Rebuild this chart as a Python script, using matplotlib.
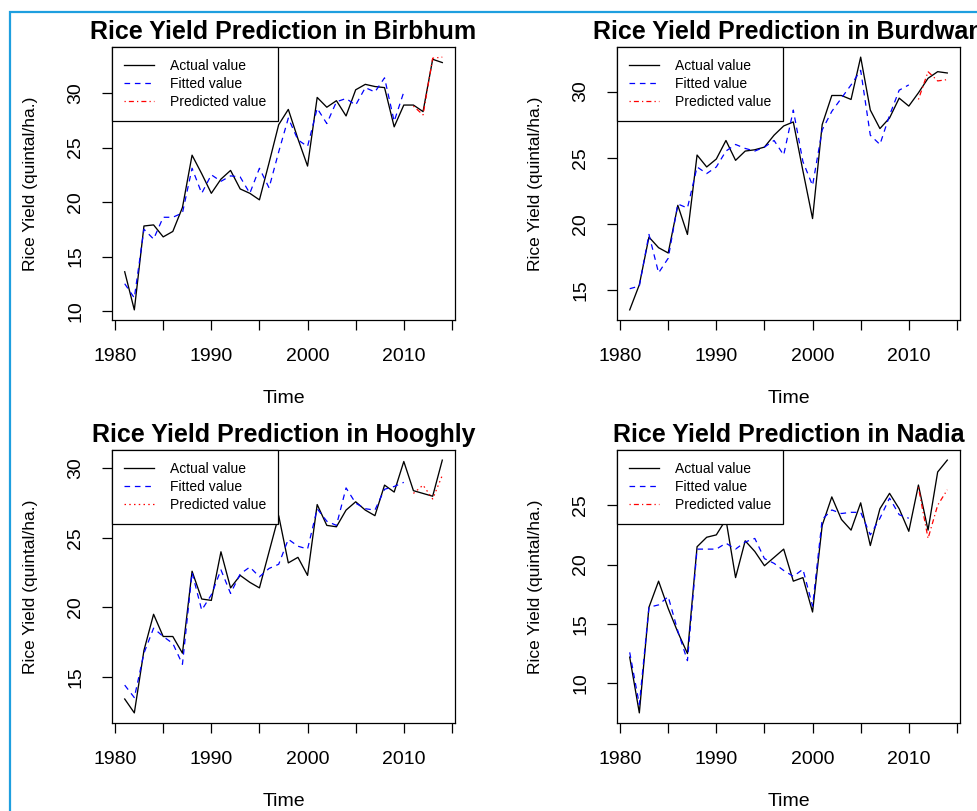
import numpy as np
import matplotlib
matplotlib.use("Agg")
import matplotlib.pyplot as plt
from matplotlib.patches import Rectangle
from matplotlib.ticker import MultipleLocator

plt.rcParams['font.family'] = ['Liberation Sans', 'DejaVu Sans']

years      = list(range(1981, 2015))
fit_years  = list(range(1981, 2011))
pred_years = list(range(2011, 2015))

districts = ["Birbhum", "Burdwan", "Hooghly", "Nadia"]

birbhum_actual = [13.6, 10.1, 17.8, 17.9, 16.8, 17.3, 19.5, 24.3, 22.6, 20.8,
                  22.1, 22.9, 21.2, 20.8, 20.2, 23.6, 27.1, 28.5, 25.8, 23.3,
                  29.6, 28.7, 29.3, 27.9, 30.3, 30.8, 30.6, 30.5, 26.9, 28.9,
                  28.9, 28.3, 33.1, 32.8]
birbhum_fitted = [12.5, 11.2, 17.5, 16.6, 18.6, 18.6, 19.0, 23.1, 20.8, 22.5,
                  21.9, 22.4, 22.3, 20.8, 23.1, 21.3, 24.6, 27.7, 25.7, 25.1,
                  28.6, 27.2, 29.2, 29.5, 28.9, 30.5, 30.1, 31.4, 27.4, 30.1]
birbhum_pred   = [28.8, 28.0, 33.2, 33.3]

burdwan_actual = [13.5, 15.4, 19.0, 18.2, 17.8, 21.4, 19.2, 25.2, 24.3, 24.9,
                  26.3, 24.8, 25.5, 25.6, 25.8, 26.7, 27.4, 27.7, 24.0, 20.4,
                  27.5, 29.7, 29.7, 29.4, 32.6, 28.6, 27.2, 28.0, 29.5, 28.9,
                  29.9, 31.0, 31.5, 31.4]
burdwan_fitted = [15.1, 15.3, 19.2, 16.3, 17.4, 21.5, 21.2, 24.3, 23.8, 24.3,
                  25.5, 26.0, 25.7, 25.5, 25.8, 26.3, 25.2, 28.6, 24.7, 22.9,
                  27.1, 28.5, 29.5, 30.5, 31.6, 26.7, 26.0, 28.2, 30.1, 30.5]
burdwan_pred   = [29.4, 31.5, 30.8, 30.9]

hooghly_actual = [13.4, 12.4, 16.9, 19.5, 17.9, 17.9, 16.7, 22.6, 20.6, 20.5,
                  24.0, 21.4, 22.3, 21.8, 21.4, 24.0, 26.6, 23.2, 23.6, 22.3,
                  27.4, 25.9, 25.8, 27.0, 27.6, 27.0, 26.6, 28.8, 28.3, 30.5,
                  28.4, 28.2, 28.0, 30.6]
hooghly_fitted = [14.4, 13.5, 16.7, 18.5, 17.9, 17.4, 15.9, 22.5, 19.8, 20.9,
                  22.7, 21.0, 22.4, 22.9, 22.2, 22.8, 23.1, 24.9, 24.4, 24.2,
                  27.1, 26.2, 25.9, 28.6, 27.5, 27.1, 27.0, 28.5, 28.7, 29.0]
hooghly_pred   = [28.2, 28.8, 27.8, 29.5]

nadia_actual = [12.2, 7.5, 16.4, 18.6, 16.3, 14.3, 12.5, 21.5, 22.3, 22.5,
                23.8, 18.9, 22.0, 21.1, 19.9, 20.6, 21.3, 18.6, 18.9, 16.0,
                23.3, 25.7, 23.8, 22.9, 25.2, 21.6, 24.7, 26.0, 24.7, 22.8,
                26.7, 22.9, 27.8, 28.8]
nadia_fitted = [12.6, 8.2, 16.4, 16.6, 17.3, 14.4, 11.9, 21.3, 21.3, 21.3,
                21.8, 21.3, 21.9, 22.2, 20.5, 20.1, 19.5, 19.0, 19.6, 16.5,
                23.8, 24.6, 24.3, 24.4, 24.4, 22.5, 23.9, 25.6, 24.2, 23.9]
nadia_pred   = [26.5, 22.2, 25.0, 26.3]

W, H = 978, 811
DOTDASH = (1, 2.5, 4, 2.5)
DOTTED  = (1.2, 2.6)


def main():
    series = [
        (birbhum_actual, birbhum_fitted, birbhum_pred, DOTDASH),
        (burdwan_actual, burdwan_fitted, burdwan_pred, DOTDASH),
        (hooghly_actual, hooghly_fitted, hooghly_pred, DOTTED),
        (nadia_actual, nadia_fitted, nadia_pred, DOTDASH),
    ]
    fig, axes = create_figure()

    for ax, name, (actual, fitted, pred, pdash) in zip(axes, districts, series):
        ax.plot(years, actual, color="black", lw=0.95, label="Actual value")
        ax.plot(fit_years, fitted, color="#0000FF", lw=0.9,
                dashes=(4.5, 3.8), label="Fitted value")
        ax.plot(pred_years, pred, color="#FF0000", lw=0.9,
                dashes=pdash, label="Predicted value")

        ax.margins(x=0.04, y=0.04)
        ax.set_xticks(range(1980, 2016, 5))
        ax.set_xticklabels([str(y) if y % 10 == 0 else "" for y in range(1980, 2016, 5)])
        ax.yaxis.set_major_locator(MultipleLocator(5))
        for lab in ax.get_yticklabels():
            lab.set_rotation(90)
            lab.set_va("center")

        ax.set_title("Rice Yield Prediction in " + name, fontsize=18,
                     fontweight="bold", pad=6)
        ax.set_xlabel("Time", fontsize=14)
        ax.set_ylabel("Rice Yield (quintal/ha.)", fontsize=12.5)
        ax.xaxis.set_label_coords(0.5, -0.255)
        ax.yaxis.set_label_coords(-0.215, 0.5)

        leg = ax.legend(loc="upper left", borderaxespad=0, fontsize=10,
                        fancybox=False, framealpha=1, edgecolor="black",
                        handlelength=2.2, handletextpad=1.1, borderpad=0.85,
                        labelspacing=0.3)
        leg.get_frame().set_linewidth(0.9)

    fig.savefig("out.png", dpi=100)


def create_figure():
    fig = plt.figure(figsize=(W / 100, H / 100), dpi=100)
    fig.patch.set_facecolor("white")

    # light blue frame (cropped screenshot border)
    fig.add_artist(Rectangle((10 / W, -0.1), 1.2, 1.1 - 12 / H,
                             transform=fig.transFigure, fill=False,
                             edgecolor="#1E9FDF", lw=1.6))

    lefts = [112, 617]
    tops  = [47, 450]
    aw, ah = 343, 273
    axes = []
    for top in tops:
        for left in lefts:
            ax = fig.add_axes([left / W, (H - top - ah) / H, aw / W, ah / H])
            for sp in ax.spines.values():
                sp.set_linewidth(0.9)
            ax.tick_params(direction="out", length=7, width=0.9,
                           labelsize=14, color="black")
            ax.tick_params(axis="x", pad=13)
            ax.tick_params(axis="y", pad=13)
            axes.append(ax)
    return fig, axes


if __name__ == '__main__':
    main()
